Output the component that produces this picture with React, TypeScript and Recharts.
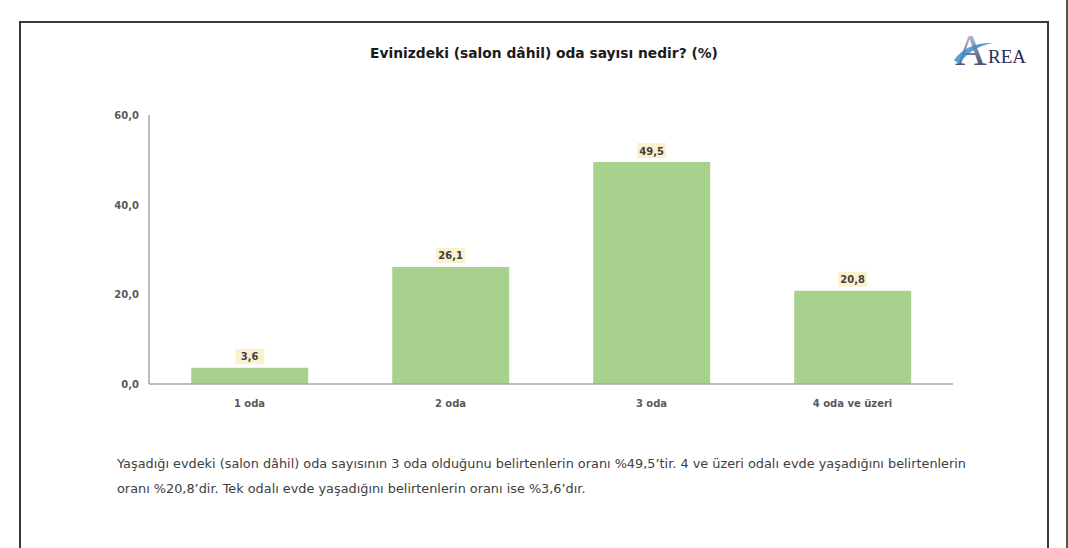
import React from "react";
import { BarChart, Bar, XAxis, YAxis, LabelList } from "recharts";

const categories = ["1 oda", "2 oda", "3 oda", "4 oda ve üzeri"];
const shares = [3.6, 26.1, 49.5, 20.8];
const yTicks = [0, 20, 40, 60];

const title = "Evinizdeki (salon dâhil) oda sayısı nedir? (%)";
const noteLines = [
  "Yaşadığı evdeki (salon dâhil) oda sayısının 3 oda olduğunu belirtenlerin oranı %49,5’tir. 4 ve üzeri odalı evde yaşadığını belirtenlerin",
  "oranı %20,8’dir. Tek odalı evde yaşadığını belirtenlerin oranı ise %3,6’dır.",
];

const data = categories.map((name, i) => ({ name, value: shares[i] }));

const fmt = (v: number) => v.toFixed(1).replace(".", ",");
const FONT = "'DejaVu Sans', sans-serif";

const ValueLabel = (props: any) => {
  const { x, y, width, value } = props;
  const cx = x + width / 2;
  const w = 29;
  const h = 15;
  return (
    <g>
      <rect x={cx - w / 2} y={y - h - 4} width={w} height={h} fill="#fdf0cf" />
      <text
        x={cx}
        y={y - 4 - h / 2}
        dy={4}
        textAnchor="middle"
        fontSize={10}
        fontWeight="bold"
        fill="#404040"
        fontFamily={FONT}
      >
        {fmt(value)}
      </text>
    </g>
  );
};

const XTick = (props: any) => {
  const { x, y, payload } = props;
  return (
    <text
      x={x}
      y={y + 15}
      textAnchor="middle"
      fontSize={10}
      fontWeight="bold"
      fill="#595959"
      fontFamily={FONT}
    >
      {payload.value}
    </text>
  );
};

const YTick = (props: any) => {
  const { x, y, payload } = props;
  return (
    <text
      x={x - 2}
      y={y}
      dy={4}
      textAnchor="end"
      fontSize={10}
      fontWeight="bold"
      fill="#595959"
      fontFamily={FONT}
    >
      {fmt(payload.value)}
    </text>
  );
};

export default function App() {
  return (
    <div
      style={{
        position: "absolute",
        left: 0,
        top: 0,
        width: 1068,
        height: 548,
        background: "#fff",
        overflow: "hidden",
        fontFamily: FONT,
      }}
    >
      {/* page frame */}
      <div
        style={{
          position: "absolute",
          left: 19,
          top: 21,
          width: 1026,
          height: 560,
          border: "2px solid #3a3a3a",
        }}
      />
      <div
        style={{
          position: "absolute",
          left: 1066,
          top: 0,
          width: 2,
          height: 548,
          background: "#555",
        }}
      />

      <div
        style={{
          position: "absolute",
          left: 0,
          top: 45,
          width: 1088,
          textAlign: "center",
          fontSize: 13.8,
          fontWeight: "bold",
          color: "#1a1a1a",
        }}
      >
        {title}
      </div>

      {/* logo */}
      <svg
        style={{ position: "absolute", left: 952, top: 12 }}
        width={90}
        height={64}
      >
        <defs>
          <linearGradient id="logoA" x1="0" y1="0" x2="0" y2="1">
            <stop offset="0" stopColor="#d8d8e4" />
            <stop offset="1" stopColor="#2b2d5a" />
          </linearGradient>
        </defs>
        <text
          x={3}
          y={53}
          fontSize={44}
          fontFamily="'Liberation Serif', serif"
          fill="url(#logoA)"
        >
          A
        </text>
        <text
          x={36}
          y={51}
          fontSize={19}
          fontFamily="'Liberation Serif', serif"
          fill="#2b2d5a"
        >
          REA
        </text>
        <path d="M2 48 Q15 30 41 31 Q19 35 7 52 Z" fill="#3a8fc9" opacity={0.85} />
      </svg>

      <div style={{ position: "absolute", left: 0, top: 0 }}>
        <BarChart
          width={1068}
          height={548}
          data={data}
          margin={{ top: 115, right: 115, bottom: 134, left: 89 }}
          barCategoryGap="21%"
        >
          <XAxis
            dataKey="name"
            axisLine={{ stroke: "#a6a6a6", strokeWidth: 1.5 }}
            tickLine={false}
            tick={<XTick />}
            height={30}
          />
          <YAxis
            domain={[0, 60]}
            ticks={yTicks}
            axisLine={{ stroke: "#a6a6a6", strokeWidth: 1.5 }}
            tickLine={false}
            tick={<YTick />}
            width={60}
          />
          <Bar dataKey="value" fill="#a9d18e" isAnimationActive={false}>
            <LabelList dataKey="value" content={<ValueLabel />} />
          </Bar>
        </BarChart>
      </div>

      <div
        style={{
          position: "absolute",
          left: 117,
          top: 451,
          fontSize: 12.85,
          lineHeight: "25px",
          color: "#404040",
          whiteSpace: "nowrap",
        }}
      >
        {noteLines.map((l, i) => (
          <div key={i}>{l}</div>
        ))}
      </div>
    </div>
  );
}
